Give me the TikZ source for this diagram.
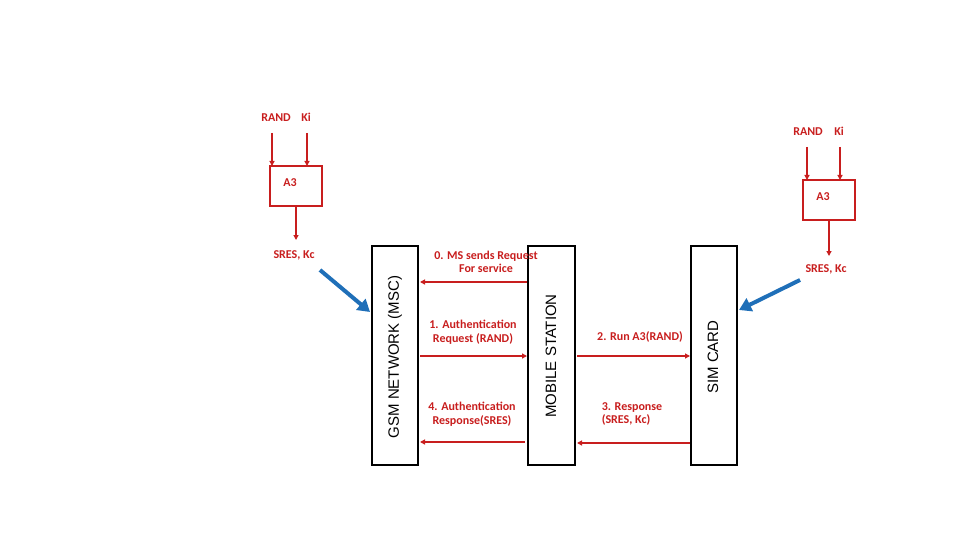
\documentclass[tikz,border=0pt]{standalone}
\usepackage{fontspec}
\setmainfont{Carlito}
\setsansfont{Liberation Sans}
\usetikzlibrary{positioning,arrows.meta}
\definecolor{msgred}{HTML}{C81E1E}
\definecolor{hintblue}{HTML}{1F6FB8}

\begin{document}
\begin{tikzpicture}[x=1pt, y=-1pt,
    lbl/.style={text=msgred, font=\bfseries\fontsize{12}{13.5}\selectfont, inner sep=1pt, align=center},
    msg/.style={draw=msgred, line width=1.2pt, -{Triangle[length=5pt,width=5pt]}},
    entity/.style={draw, line width=1.3pt, fill=white},
    algo/.style={draw=msgred, line width=1.5pt, minimum width=52pt, minimum height=40pt},
    hint/.style={draw=hintblue, line width=4pt, -{Triangle[length=12pt,width=14pt]}},
    ename/.style={rotate=90, font=\sffamily\fontsize{15}{16}\selectfont}]
    \useasboundingbox (0,0) rectangle (960,540);

    % left side: network computes
    \node[lbl] (randL) at (276,118) {RAND};
    \node[lbl] (kiL) at (306,117) {Ki};
    \node[algo] (a3L) at (296,186) {};
    \node[lbl] at (290,183) {A3};
    \node[lbl] (sresL) at (294,255) {SRES, Kc};
    \draw[msg] (272,133) -- (272,166);
    \draw[msg] (307,133) -- (307,166);
    \draw[msg] (a3L.south) -- (296,240);

    % right side: SIM computes
    \node[lbl] (randR) at (808,132) {RAND};
    \node[lbl] (kiR) at (839,131) {Ki};
    \node[algo] (a3R) at (829,200) {};
    \node[lbl] at (823,197) {A3};
    \node[lbl] (sresR) at (826,269) {SRES, Kc};
    \draw[msg] (807,147) -- (807,180);
    \draw[msg] (840,147) -- (840,180);
    \draw[msg] (a3R.south) -- (829,256);

    % entities
    \draw[entity] (372,246) rectangle (418,465);
    \draw[entity] (528,246) rectangle (575,465);
    \draw[entity] (691,246) rectangle (737,465);
    \node[ename] (gsm) at (395,357) {GSM NETWORK (MSC)};
    \node[ename] (ms) at (551,356) {MOBILE STATION};
    \node[ename] (sim) at (713,357) {SIM CARD};

    % messages
    \draw[msg] (527,282) -- (420,282);
    \node[lbl] at (486,262) {0. MS sends Request\\For service};
    \draw[msg] (420,356) -- (527,356);
    \node[lbl] at (473,332) {1. Authentication\\Request (RAND)};
    \draw[msg] (525,442) -- (420,442);
    \node[lbl] at (472,414) {4. Authentication\\Response(SRES)};
    \draw[msg] (577,356) -- (690,356);
    \node[lbl] at (640,337) {2. Run A3(RAND)};
    \draw[msg] (690,443) -- (577,443);
    \node[lbl, align=left] at (632,414) {3. Response\\(SRES, Kc)};

    % hints
    \draw[hint] (320,270) -- (370,312);
    \draw[hint] (800,280) -- (739,310);
\end{tikzpicture}
\end{document}
